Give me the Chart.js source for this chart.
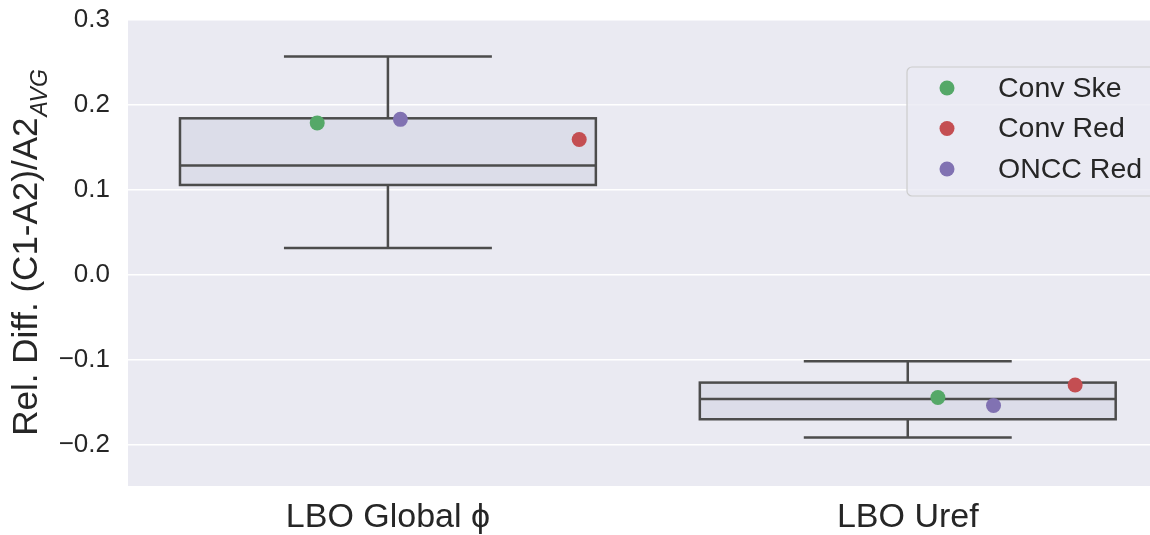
<!DOCTYPE html>
<html>
<head>
<meta charset="utf-8">
<script src="https://cdn.jsdelivr.net/npm/chart.js@4/dist/chart.umd.min.js"></script>
<style>
  html, body { margin: 0; padding: 0; background: #ffffff; overflow: hidden; }
  #wrap { width: 1150px; height: 535px; position: relative; }
</style>
</head>
<body>
<div id="wrap"><canvas id="box-chart"></canvas></div>
<script>
const categories = ['LBO Global \u03D5', 'LBO Uref']

// box stats per category
const whiskerLow = [0.032, -0.191]
const q1 = [0.106, -0.1695]
const medians = [0.129, -0.1456]
const q3 = [0.1844, -0.1264]
const whiskerHigh = [0.257, -0.1013]

// strip points, one value per category for each series
const seriesNames = ['Conv Ske', 'Conv Red', 'ONCC Red']
const seriesColors = ['#55a868', '#c44e52', '#8172b2']
const convSke = [0.179, -0.144]
const convRed = [0.1594, -0.1292]
const onccRed = [0.1832, -0.1534]
// horizontal jitter (category units) as seen in the picture
const jitterSke = [-0.136, 0.058]
const jitterRed = [0.368, 0.322]
const jitterOncc = [0.024, 0.165]

const yTicks = [0.3, 0.2, 0.1, 0.0, -0.1, -0.2]

const FONT = 'Liberation Sans, Arial, sans-serif'
const LINE = '#4c4c4c'

const toPoints = (vals, jit) => vals.map((v, i) => ({ x: i + jit[i], y: v }))

const data = {
    datasets: [
        { label: seriesNames[0], data: toPoints(convSke, jitterSke), backgroundColor: seriesColors[0] },
        { label: seriesNames[1], data: toPoints(convRed, jitterRed), backgroundColor: seriesColors[1] },
        { label: seriesNames[2], data: toPoints(onccRed, jitterOncc), backgroundColor: seriesColors[2] },
    ]
}

// plot background (seaborn darkgrid)
const bgPlugin = {
    id: 'plotBg',
    beforeDraw(chart) {
        const { ctx, chartArea: a } = chart
        ctx.save()
        ctx.fillStyle = '#eaeaf2'
        ctx.fillRect(a.left, a.top, a.right - a.left, a.bottom - a.top)
        ctx.restore()
    }
}

// box + whiskers drawn through the scales
const boxPlugin = {
    id: 'boxes',
    beforeDatasetsDraw(chart) {
        const { ctx, scales: { x, y } } = chart
        ctx.save()
        ctx.strokeStyle = LINE
        ctx.lineWidth = 2.5
        categories.forEach((c, i) => {
            const xl = x.getPixelForValue(i - 0.4)
            const xr = x.getPixelForValue(i + 0.4)
            const xc = x.getPixelForValue(i)
            const cl = x.getPixelForValue(i - 0.2)
            const cr = x.getPixelForValue(i + 0.2)
            const yq1 = y.getPixelForValue(q1[i])
            const yq3 = y.getPixelForValue(q3[i])
            const ymed = y.getPixelForValue(medians[i])
            const ylo = y.getPixelForValue(whiskerLow[i])
            const yhi = y.getPixelForValue(whiskerHigh[i])

            ctx.fillStyle = '#dcdde9'
            ctx.fillRect(xl, yq3, xr - xl, yq1 - yq3)
            ctx.strokeRect(xl, yq3, xr - xl, yq1 - yq3)

            ctx.beginPath()
            ctx.moveTo(xl, ymed); ctx.lineTo(xr, ymed)
            ctx.moveTo(xc, yq3); ctx.lineTo(xc, yhi)
            ctx.moveTo(cl, yhi); ctx.lineTo(cr, yhi)
            ctx.moveTo(xc, yq1); ctx.lineTo(xc, ylo)
            ctx.moveTo(cl, ylo); ctx.lineTo(cr, ylo)
            ctx.stroke()
        })
        ctx.restore()
    }
}

// y label with subscript + legend box
const textPlugin = {
    id: 'extraText',
    afterDraw(chart) {
        const { ctx, chartArea: a } = chart
        ctx.save()
        // y axis title
        const main = 'Rel. Diff. (C1-A2)/A2'
        const sub = 'AVG'
        const mainFont = '35px ' + FONT
        const subFont = 'italic 23px ' + FONT
        ctx.font = mainFont
        const w1 = ctx.measureText(main).width
        ctx.font = subFont
        const w2 = ctx.measureText(sub).width
        const cy = (a.top + a.bottom) / 2
        ctx.translate(37, cy)
        ctx.rotate(-Math.PI / 2)
        ctx.fillStyle = '#262626'
        ctx.textBaseline = 'alphabetic'
        ctx.textAlign = 'left'
        ctx.font = mainFont
        ctx.fillText(main, -(w1 + w2) / 2, 0)
        ctx.font = subFont
        ctx.fillText(sub, -(w1 + w2) / 2 + w1 + 1, 10)
        ctx.restore()

        // legend
        ctx.save()
        const lx = 907, ly = 67, lw = 255, lh = 129
        ctx.beginPath()
        ctx.roundRect(lx, ly, lw, lh, 5)
        ctx.fillStyle = 'rgba(234,234,242,0.8)'
        ctx.fill()
        ctx.strokeStyle = '#cccccc'
        ctx.lineWidth = 1.2
        ctx.stroke()
        ctx.font = '28.5px ' + FONT
        ctx.textBaseline = 'middle'
        ctx.textAlign = 'left'
        chart.data.datasets.forEach((ds, i) => {
            const yy = 88 + i * 40.5
            ctx.beginPath()
            ctx.arc(947, yy, 7.5, 0, Math.PI * 2)
            ctx.fillStyle = ds.backgroundColor
            ctx.fill()
            ctx.fillStyle = '#262626'
            ctx.fillText(ds.label, 998, yy + 1)
        })
        ctx.restore()
    }
}

const config = {
    type: 'scatter',
    data: data,
    options: {
        responsive: true,
        maintainAspectRatio: false,
        animation: false,
        layout: { autoPadding: false, padding: { top: 20, right: 0, left: 0, bottom: 0 } },
        elements: { point: { radius: 7.5, borderWidth: 0, hoverRadius: 7.5 } },
        plugins: {
            legend: { display: false },
            tooltip: { enabled: false },
        },
        scales: {
            x: {
                type: 'linear',
                min: -0.5,
                max: 1.466,
                border: { display: false },
                grid: { display: false, drawTicks: false },
                afterBuildTicks: (s) => { s.ticks = categories.map((c, i) => ({ value: i })) },
                afterFit: (s) => { s.height = 49; s.paddingLeft = 0; s.paddingRight = 0 },
                ticks: {
                    callback: (v) => categories[v],
                    font: { size: 34, family: FONT },
                    color: '#262626',
                    padding: 11,
                    maxRotation: 0,
                    autoSkip: false,
                }
            },
            y: {
                type: 'linear',
                min: -0.248,
                max: 0.3,
                border: { display: false },
                grid: { color: '#ffffff', lineWidth: 1.5, drawTicks: false },
                afterBuildTicks: (s) => { s.ticks = yTicks.map(v => ({ value: v })) },
                afterFit: (s) => { s.width = 128; s.paddingTop = 0; s.paddingBottom = 0 },
                ticks: {
                    callback: (v) => {
                        const t = Math.abs(v) < 1e-9 ? '0.0' : v.toFixed(1)
                        return t.replace('-', '\u2212')
                    },
                    font: { size: 26, family: FONT },
                    color: '#262626',
                    padding: 18,
                }
            }
        }
    },
    plugins: [bgPlugin, boxPlugin, textPlugin]
}

new Chart(document.querySelector('#box-chart'), config)
</script>
</body>
</html>
